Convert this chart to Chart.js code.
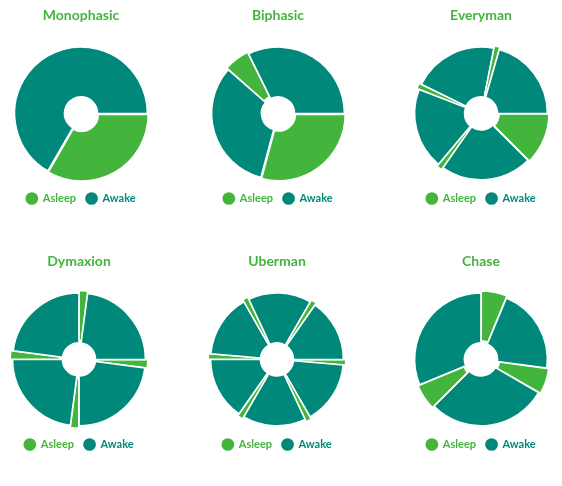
<!DOCTYPE html>
<html>
<head>
<meta charset="utf-8">
<script src="https://cdn.jsdelivr.net/npm/chart.js@4.4.1/dist/chart.umd.min.js"></script>
<style>
  html, body { margin: 0; padding: 0; background: #fff; }
  body { width: 562px; height: 486px; position: relative; overflow: hidden; }
  .cell { position: absolute; width: 180px; height: 214px; }
</style>
</head>
<body>
<div class="cell" style="left:-9px; top:0px"><canvas id="c0"></canvas></div>
<div class="cell" style="left:188px; top:0px"><canvas id="c1"></canvas></div>
<div class="cell" style="left:391px; top:0px"><canvas id="c2"></canvas></div>
<div class="cell" style="left:-11px; top:246px"><canvas id="c3"></canvas></div>
<div class="cell" style="left:187px; top:246px"><canvas id="c4"></canvas></div>
<div class="cell" style="left:391px; top:246px"><canvas id="c5"></canvas></div>
<script>
var GREEN = '#43b53c'
var TEAL = '#00897b'

var sleepStates = ['Asleep', 'Awake']
var scheduleNames = ['Monophasic', 'Biphasic', 'Everyman', 'Dymaxion', 'Uberman', 'Chase']

// hour of day where the first segment begins (midnight = 3 o'clock)
var startHours = [0, 0, 0, 0, 0, 0.5]

// hours per segment, clockwise from the start hour
var monophasicHours = [8, 16]
var monophasicStates = ['Asleep', 'Awake']

var biphasicHours = [7, 7.75, 1.5, 7.75]
var biphasicStates = ['Asleep', 'Awake', 'Asleep', 'Awake']

var everymanHours = [3, 5.33, 0.33, 4.75, 0.33, 5, 0.33, 4.93]
var everymanStates = ['Asleep', 'Awake', 'Asleep', 'Awake', 'Asleep', 'Awake', 'Asleep', 'Awake']

var dymaxionHours = [0.5, 5.5, 0.5, 5.5, 0.5, 5.5, 0.5, 5.5]
var dymaxionStates = ['Asleep', 'Awake', 'Asleep', 'Awake', 'Asleep', 'Awake', 'Asleep', 'Awake']

var ubermanHours = [0.33, 3.67, 0.33, 3.67, 0.33, 3.67, 0.33, 3.67, 0.33, 3.67, 0.33, 3.67]
var ubermanStates = ['Asleep', 'Awake', 'Asleep', 'Awake', 'Asleep', 'Awake', 'Asleep', 'Awake', 'Asleep', 'Awake', 'Asleep', 'Awake']

var chaseHours = [1.5, 7, 1.5, 7.5, 1.5, 5]
var chaseStates = ['Asleep', 'Awake', 'Asleep', 'Awake', 'Asleep', 'Awake']

var allHours = [monophasicHours, biphasicHours, everymanHours, dymaxionHours, ubermanHours, chaseHours]
var allStates = [monophasicStates, biphasicStates, everymanStates, dymaxionStates, ubermanStates, chaseStates]

function stateColor(s) {
    return s === 'Asleep' ? GREEN : TEAL
}

function drawSchedule(i) {
    var states = allStates[i]
    var ctx = document.getElementById('c' + i).getContext('2d')
    new Chart(ctx, {
        type: 'doughnut',
        data: {
            labels: states,
            datasets: [{
                data: allHours[i],
                backgroundColor: states.map(stateColor),
                borderColor: '#ffffff',
                borderWidth: 1.5,
                offset: states.map(s => s === 'Asleep' ? 5 : 0),
                hoverOffset: 0
            }]
        },
        options: {
            responsive: true,
            maintainAspectRatio: false,
            animation: false,
            rotation: 90 + startHours[i] * 15,
            cutout: '25%',
            layout: { padding: 0 },
            plugins: {
                tooltip: { enabled: false },
                title: {
                    display: true,
                    text: scheduleNames[i],
                    color: GREEN,
                    font: { family: 'Lato', size: 14, weight: 'bold' },
                    padding: { top: 7, bottom: 20 }
                },
                legend: {
                    position: 'bottom',
                    labels: {
                        usePointStyle: true,
                        boxWidth: 11,
                        boxHeight: 9,
                        padding: 10,
                        font: { family: 'Lato', size: 11, weight: 'bold' },
                        generateLabels: function () {
                            return sleepStates.map((s, k) => ({
                                text: s,
                                fillStyle: stateColor(s),
                                strokeStyle: stateColor(s),
                                fontColor: stateColor(s),
                                lineWidth: 0,
                                pointStyle: 'circle',
                                hidden: false,
                                index: k
                            }))
                        }
                    }
                }
            }
        }
    })
}

for (var i = 0; i < 6; i++) {
    drawSchedule(i)
}
</script>
</body>
</html>
